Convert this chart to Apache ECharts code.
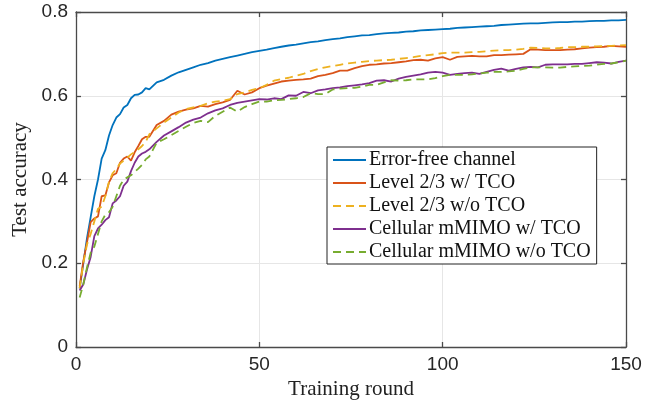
<!DOCTYPE html>
<html>
<head>
<meta charset="utf-8">
<script src="https://cdn.jsdelivr.net/npm/echarts@6/dist/echarts.min.js"></script>
<style>html,body{margin:0;padding:0;background:#fff;}#chart{width:655px;height:407px;}</style>
</head>
<body>
<div id="chart"></div>
<script>
const rounds = [1,2,3,4,5,6,7,8,9,10,11,12,13,14,15,16,17,18,19,20,
  22,24,26,28,30,32,34,36,38,40,42,44,46,48,50,52,54,56,58,60,
  62,64,66,68,70,72,74,76,78,80,82,84,86,88,90,92,94,96,98,100,
  102,104,106,108,110,112,114,116,118,120,122,124,126,128,130,132,134,136,138,140,
  142,144,146,148,150];

const errorFree = [0.14,0.20,0.26,0.31,0.36,0.40,0.45,0.47,0.505,0.53,0.548,0.556,0.572,0.578,0.594,0.602,0.603,0.608,0.618,0.615,
  0.632,0.638,0.648,0.656,0.662,0.668,0.674,0.678,0.684,0.688,0.692,0.696,0.700,0.704,0.707,0.710,0.714,0.717,0.720,0.722,
  0.725,0.728,0.730,0.733,0.735,0.737,0.740,0.742,0.744,0.745,0.747,0.749,0.750,0.751,0.753,0.754,0.756,0.757,0.758,0.759,
  0.760,0.762,0.763,0.764,0.765,0.766,0.767,0.769,0.770,0.771,0.772,0.773,0.773,0.774,0.775,0.776,0.776,0.777,0.777,0.778,
  0.779,0.779,0.780,0.780,0.781];

const level23TCO = [0.145,0.205,0.25,0.298,0.307,0.312,0.36,0.362,0.393,0.41,0.415,0.44,0.45,0.455,0.445,0.465,0.48,0.496,0.502,0.502,
  0.53,0.54,0.555,0.562,0.567,0.57,0.576,0.574,0.58,0.584,0.59,0.612,0.603,0.608,0.618,0.624,0.629,0.634,0.636,0.638,
  0.639,0.641,0.647,0.65,0.654,0.66,0.66,0.666,0.671,0.674,0.675,0.677,0.678,0.680,0.682,0.685,0.686,0.684,0.689,0.692,
  0.686,0.693,0.694,0.695,0.694,0.694,0.697,0.697,0.698,0.699,0.700,0.711,0.710,0.709,0.709,0.709,0.710,0.711,0.713,0.715,
  0.716,0.717,0.719,0.718,0.717];

const level23NoTCO = [0.14,0.20,0.245,0.27,0.30,0.33,0.335,0.36,0.395,0.415,0.425,0.438,0.445,0.452,0.46,0.466,0.472,0.48,0.49,0.508,
  0.522,0.536,0.548,0.56,0.568,0.572,0.576,0.582,0.586,0.588,0.592,0.604,0.608,0.614,0.618,0.626,0.636,0.64,0.643,0.648,
  0.652,0.659,0.664,0.668,0.671,0.674,0.677,0.679,0.681,0.683,0.684,0.685,0.686,0.688,0.690,0.692,0.695,0.697,0.699,0.702,
  0.703,0.703,0.703,0.704,0.705,0.706,0.708,0.709,0.709,0.710,0.712,0.715,0.714,0.713,0.713,0.714,0.716,0.716,0.717,0.717,
  0.718,0.719,0.719,0.720,0.721];

const cellularTCO = [0.135,0.15,0.185,0.215,0.265,0.283,0.292,0.303,0.31,0.343,0.35,0.36,0.385,0.395,0.42,0.44,0.455,0.462,0.466,0.472,
  0.49,0.505,0.515,0.525,0.536,0.543,0.548,0.558,0.565,0.57,0.578,0.583,0.586,0.589,0.592,0.591,0.594,0.592,0.601,0.600,
  0.609,0.606,0.613,0.615,0.618,0.62,0.623,0.625,0.627,0.630,0.636,0.637,0.634,0.641,0.645,0.648,0.651,0.655,0.657,0.655,
  0.650,0.652,0.654,0.655,0.652,0.657,0.662,0.665,0.660,0.664,0.668,0.669,0.668,0.674,0.675,0.675,0.675,0.676,0.676,0.678,
  0.680,0.679,0.677,0.681,0.684];

const cellularNoTCO = [0.118,0.15,0.19,0.225,0.24,0.27,0.30,0.316,0.322,0.335,0.36,0.385,0.40,0.405,0.41,0.418,0.426,0.435,0.448,0.455,
  0.488,0.496,0.506,0.516,0.526,0.535,0.54,0.537,0.552,0.562,0.572,0.562,0.573,0.58,0.586,0.586,0.589,0.59,0.592,0.594,
  0.597,0.606,0.604,0.604,0.615,0.617,0.618,0.619,0.622,0.626,0.626,0.632,0.637,0.636,0.637,0.639,0.639,0.639,0.642,0.647,
  0.650,0.650,0.650,0.651,0.653,0.655,0.657,0.657,0.658,0.660,0.664,0.668,0.668,0.668,0.667,0.667,0.669,0.670,0.671,0.672,
  0.674,0.676,0.677,0.680,0.684];

const seriesNames = ['Error-free channel','Level 2/3 w/ TCO','Level 2/3 w/o TCO','Cellular mMIMO w/ TCO','Cellular mMIMO w/o TCO'];
const xTicks = [0,50,100,150];
const yTicks = [0,0.2,0.4,0.6,0.8];

const colors = ['#0072BD','#D95319','#EDB120','#7E2F8E','#77AC30'];
const dashed = [false,false,true,false,true];
const allValues = [errorFree, level23TCO, level23NoTCO, cellularTCO, cellularNoTCO];

const axisColor = '#4a4a4a';
const chart = echarts.init(document.getElementById('chart'), null, {renderer:'canvas'});
const series = allValues.map((vals,i)=>({
  name: seriesNames[i],
  type: 'line',
  xAxisIndex: 0, yAxisIndex: 0,
  data: rounds.map((r,k)=>[r, vals[k]]),
  symbol: 'none',
  showSymbol: false,
  smooth: false,
  lineStyle: {color: colors[i], width: 1.8, type: dashed[i] ? [8,5] : 'solid'},
  itemStyle: {color: colors[i]},
  z: 2 + i
}));

chart.setOption({
  animation: false,
  backgroundColor: '#fff',
  grid: {left: 76, right: 29, top: 12, bottom: 60, containLabel: false},
  legend: {
    orient: 'vertical',
    left: 327, top: 147,
    padding: [3, 6, 2, 5],
    itemGap: 3,
    itemWidth: 33, itemHeight: 19,
    backgroundColor: '#fff',
    borderColor: '#222', borderWidth: 1,
    itemStyle: {opacity: 0},
    lineStyle: {width: 2},
    textStyle: {fontFamily: 'Liberation Serif', fontSize: 20, color: '#111', padding:[0,0,0,-2]},
    data: seriesNames
  },
  xAxis: [{
    type: 'value', min: 0, max: 150, interval: 50,
    name: 'Training round', nameLocation: 'middle', nameGap: 29,
    nameTextStyle: {fontFamily: 'Liberation Serif', fontSize: 21, color: '#222'},
    axisLine: {show: true, onZero: false, lineStyle: {color: axisColor, width: 1.3}},
    axisTick: {show: true, inside: true, length: 5, lineStyle: {color: axisColor, width: 1.3}},
    axisLabel: {fontFamily: 'Liberation Sans', fontSize: 19, color: '#262626', margin: 8,
      formatter: v => xTicks.includes(v) ? String(v) : ''},
    splitLine: {show: true, lineStyle: {color: '#e6e6e6', width: 1}}
  },{
    type: 'value', min: 0, max: 150, interval: 50, position: 'top',
    axisLine: {show: true, onZero: false, lineStyle: {color: axisColor, width: 1.3}},
    axisTick: {show: true, inside: true, length: 5, lineStyle: {color: axisColor, width: 1.3}},
    axisLabel: {show: false}, splitLine: {show: false}
  }],
  yAxis: [{
    type: 'value', min: 0, max: 0.8, interval: 0.2,
    name: 'Test accuracy', nameLocation: 'middle', nameGap: 44, nameRotate: 90,
    nameTextStyle: {fontFamily: 'Liberation Serif', fontSize: 21, color: '#222'},
    axisLine: {show: true, onZero: false, lineStyle: {color: axisColor, width: 1.3}},
    axisTick: {show: true, inside: true, length: 5, lineStyle: {color: axisColor, width: 1.3}},
    axisLabel: {fontFamily: 'Liberation Sans', fontSize: 19, color: '#262626', margin: 8,
      formatter: v => { const t = yTicks.find(y => Math.abs(y - v) < 1e-9); return t === undefined ? '' : (t === 0 ? '0' : t.toFixed(1)); }},
    splitLine: {show: true, lineStyle: {color: '#e6e6e6', width: 1}}
  },{
    type: 'value', min: 0, max: 0.8, interval: 0.2, position: 'right',
    axisLine: {show: true, onZero: false, lineStyle: {color: axisColor, width: 1.3}},
    axisTick: {show: true, inside: true, length: 5, lineStyle: {color: axisColor, width: 1.3}},
    axisLabel: {show: false}, splitLine: {show: false}
  }],
  series: series
});
</script>
</body>
</html>
